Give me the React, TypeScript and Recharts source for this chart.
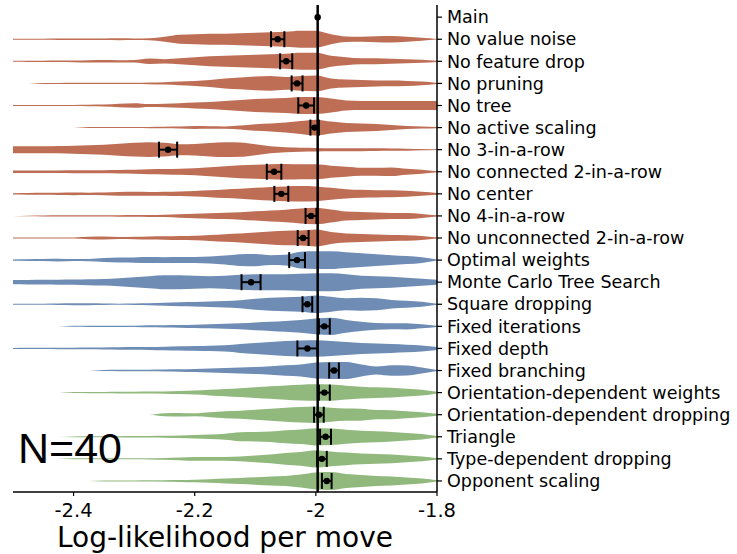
import {
  ComposedChart,
  Area,
  Scatter,
  ErrorBar,
  XAxis,
  YAxis,
  ReferenceLine,
} from "recharts";

const models = [
  "Main",
  "No value noise",
  "No feature drop",
  "No pruning",
  "No tree",
  "No active scaling",
  "No 3-in-a-row",
  "No connected 2-in-a-row",
  "No center",
  "No 4-in-a-row",
  "No unconnected 2-in-a-row",
  "Optimal weights",
  "Monte Carlo Tree Search",
  "Square dropping",
  "Fixed iterations",
  "Fixed depth",
  "Fixed branching",
  "Orientation-dependent weights",
  "Orientation-dependent dropping",
  "Triangle",
  "Type-dependent dropping",
  "Opponent scaling",
];

const groups = [
  "main",
  "lesion", "lesion", "lesion", "lesion", "lesion",
  "lesion", "lesion", "lesion", "lesion", "lesion",
  "alternative", "alternative", "alternative", "alternative", "alternative", "alternative",
  "extension", "extension", "extension", "extension", "extension",
];

// mean log-likelihood per move and its standard error (main: no bar drawn)
const means = [
  -1.997, -2.063, -2.049, -2.031, -2.016, -2.002, -2.244, -2.069, -2.057, -2.008, -2.021,
  -2.031, -2.107, -2.014, -1.986, -2.014, -1.97, -1.986, -1.995, -1.984, -1.99, -1.982,
];
const sems = [
  0, 0.011, 0.01, 0.009, 0.013, 0.007, 0.015, 0.012, 0.0115, 0.009, 0.009,
  0.013, 0.0157, 0.008, 0.009, 0.0165, 0.008, 0.009, 0.008, 0.009, 0.008, 0.008,
];

// x positions where the violin densities were read
const grid = [
  -2.5, -2.475, -2.45, -2.425, -2.4, -2.375, -2.35, -2.325, -2.3, -2.275,
  -2.25, -2.225, -2.2, -2.175, -2.15, -2.125, -2.1, -2.075, -2.05, -2.025,
  -2, -1.975, -1.95, -1.925, -1.9, -1.875, -1.85, -1.825, -1.8,
];

// relative density of each violin at the grid positions
const noValueNoise = [0.6, 0.6, 0.6, 0.8, 0.8, 0.7, 0.7, 0.9, 0.8, 1, 2.5, 4.5, 5, 5.5, 5.5, 6, 6.5, 7, 7.5, 8.5, 8.5, 5, 2.8, 2.5, 3, 3.2, 2.5, 1.5, 0.3];
const noFeatureDrop = [0.5, 0.6, 0.6, 0.7, 0.9, 1.2, 1.3, 1.1, 1.3, 2.8, 2.2, 3, 4, 5, 5.5, 6, 6.5, 7, 7.5, 8.5, 8.5, 5.5, 4, 3, 3, 2.5, 2, 1.5, 0.6];
const noPruning = [0, 0, 0.5, 0.5, 0.6, 0.6, 0.6, 0.6, 0.6, 0.8, 1.2, 1.8, 2.5, 3.5, 5, 6, 7, 7.5, 6.5, 7.5, 8, 5, 4, 3.5, 3, 2.8, 2.5, 1.8, 0.5];
const noTree = [0.5, 0.6, 0.6, 0.6, 0.6, 0.8, 1, 1.8, 2.3, 1.5, 1.8, 2.3, 3, 3.5, 4.5, 5.5, 6.5, 7, 7.5, 8.5, 8.5, 7, 5, 4.5, 4.5, 4.5, 4.5, 4.5, 4.5];
const noActiveScaling = [0, 0, 0, 0, 0, 0.5, 0.5, 0.5, 0.5, 0.6, 0.8, 1, 1.5, 1.3, 1.2, 2, 3.3, 4, 5, 6.5, 8, 6, 4.5, 4, 3.5, 2.5, 1.5, 1, 0.6];
const no3InARow = [3.5, 3.5, 3.5, 3.7, 4, 4.5, 5, 6, 7, 7.5, 7, 5.5, 5.8, 6.8, 7.5, 7.2, 5.5, 3.5, 2.5, 2, 1.8, 1.5, 1.5, 1.5, 1.3, 1.2, 1, 0.7, 0.3];
const noConnected2 = [1.2, 1.2, 1.3, 1.3, 1.5, 1.5, 1.6, 1.8, 2, 2.5, 2.7, 3, 3.5, 4.5, 5.5, 6.5, 7, 7.5, 7.8, 7.5, 7.5, 6, 5, 4, 4, 4.3, 3, 2, 0.5];
const noCenter = [0.6, 0.8, 1, 1.2, 1.3, 1.2, 1.3, 1.8, 2, 1.8, 2, 2.3, 2.8, 3.5, 4.3, 5, 6, 6.8, 7.5, 7.8, 7.5, 6, 4.7, 4, 3.7, 3.5, 3, 2, 0.8];
const no4InARow = [0, 0.3, 0.5, 0.6, 0.6, 0.7, 0.7, 0.8, 0.9, 1, 1.2, 1.8, 2.3, 2.8, 3.2, 3.8, 4.7, 5.5, 6.3, 7.5, 8.3, 6.5, 4.5, 4, 3.5, 3, 3, 2, 0.6];
const noUnconnected2 = [0.5, 0.6, 0.6, 0.6, 0.6, 1.2, 1.5, 1, 1.2, 1.5, 1.7, 2, 2.3, 3, 3.8, 4.5, 5.5, 6.5, 7.3, 7.5, 8.5, 6, 4.5, 4, 3.5, 3, 2.8, 2, 0.5];
const optimalWeights = [0.6, 0.8, 1, 1.3, 1, 1.2, 2, 2.5, 2.7, 3, 2.8, 3, 3, 3.5, 4.5, 6, 6.2, 5, 5.5, 8.5, 9, 9, 8, 7, 6, 5, 4, 2.8, 0.5];
const mcts = [2.2, 2.3, 2.4, 2.5, 2.7, 3, 3.3, 4, 5, 6, 7, 7, 6.5, 6, 6.5, 7.5, 8, 8, 8, 8.5, 9, 9, 8, 6.5, 6, 5.5, 4.5, 3.5, 2.5];
const squareDropping = [0.5, 0.6, 0.6, 0.8, 1, 1, 0.8, 0.6, 0.8, 1, 1.5, 2, 2.2, 2.7, 3.3, 4, 5.5, 6.5, 7, 7.5, 8.8, 7.5, 6, 6.5, 6, 4.3, 3.5, 2.5, 0.5];
const fixedIterations = [0, 0, 0, 0, 0.5, 0.6, 0.6, 0.6, 0.6, 1, 1.2, 1.3, 1.6, 2, 2.5, 3, 4, 4.7, 5.5, 6.5, 8, 8.7, 6.5, 4.7, 3.5, 3, 3.2, 2, 0.6];
const fixedDepth = [0.5, 0.6, 0.6, 0.7, 0.8, 0.9, 1, 1.2, 1.4, 1.5, 1.8, 2.1, 2.4, 2.7, 3.2, 4.5, 5.5, 6.5, 7.5, 8, 8.3, 7.5, 6.5, 5.5, 5, 4.5, 3.8, 3, 1.5];
const fixedBranching = [0, 0, 0, 0, 0, 0, 0.6, 0.7, 0.8, 0.8, 1, 1.2, 1.5, 2, 2.5, 3, 3.5, 4.3, 5.3, 6, 8, 8.5, 8.5, 6, 4, 5.3, 5, 3, 0.5];
const orientWeights = [0, 0, 0, 0, 0.5, 0.6, 0.7, 0.8, 0.9, 1, 1.2, 1.5, 2, 2.8, 3.7, 4.5, 5.3, 6.3, 7.2, 8, 8.3, 8.2, 7, 6, 5.3, 5, 4, 3, 0.8];
const orientDropping = [0, 0, 0, 0, 0, 0, 0, 0, 0, 0, 1.5, 1.8, 1.5, 2.5, 3.5, 4, 5, 6, 7, 7.8, 8.3, 7, 6.2, 6, 4.7, 4.5, 3.5, 2.5, 1];
const triangle = [0, 0, 0, 0, 0.4, 0.5, 0.5, 0.6, 0.7, 0.8, 1, 1.3, 1.7, 2.3, 3, 4.5, 4.7, 5.2, 6.5, 7.3, 8.7, 8.3, 7, 6, 5.5, 4.7, 3.8, 2.7, 0.7];
const typeDropping = [0, 0, 0, 0, 0.5, 0.5, 0.5, 0.5, 0.5, 0.6, 1, 1.3, 2, 1.8, 2, 2.5, 3.5, 4.5, 6, 7, 8.8, 7.5, 6.3, 5.5, 5, 4.5, 3.5, 2.5, 0.6];
const opponentScaling = [0, 0, 0, 0, 0, 0, 0.5, 0.5, 0.5, 0.6, 0.8, 1, 1.3, 1.8, 2.5, 3, 3.7, 4.5, 5, 6.5, 8.5, 9, 7, 6, 5, 4.5, 3.5, 2.5, 0.6];

const violins: (number[] | null)[] = [
  null,
  noValueNoise, noFeatureDrop, noPruning, noTree, noActiveScaling,
  no3InARow, noConnected2, noCenter, no4InARow, noUnconnected2,
  optimalWeights, mcts, squareDropping, fixedIterations, fixedDepth, fixedBranching,
  orientWeights, orientDropping, triangle, typeDropping, opponentScaling,
];

const groupColor: Record<string, string> = {
  main: "#000000",
  lesion: "#be6e55",
  alternative: "#6e8cb4",
  extension: "#91b97d",
};

// density -> half width in row units
const HALF_WIDTH = 0.045;

const violinTable = grid.map((x, i) => {
  const row: Record<string, any> = { x };
  violins.forEach((d, r) => {
    if (d) row[`v${r}`] = [r - d[i] * HALF_WIDTH, r + d[i] * HALF_WIDTH];
  });
  return row;
});

const points = models.map((_, r) => ({ x: means[r], y: r, err: sems[r] }));

const font = "DejaVu Sans";

const Dot = (props: any) => <circle cx={props.cx} cy={props.cy} r={3.2} fill="#000" />;

export default function App() {
  return (
    <div style={{ position: "absolute", left: 0, top: 0, width: 737, height: 554, background: "#fff" }}>
      <ComposedChart
        width={737}
        height={554}
        data={violinTable}
        margin={{ top: 5, right: 0, bottom: 0, left: 13 }}
      >
        <XAxis
          dataKey="x"
          type="number"
          domain={[-2.5, -1.8]}
          ticks={[-2.4, -2.2, -2, -1.8]}
          allowDataOverflow
          height={62}
          tickFormatter={(v) => String(v)}
          axisLine={{ stroke: "#000", strokeWidth: 1.5 }}
          tickLine={{ stroke: "#000", strokeWidth: 1.2 }}
          tickSize={4}
          tickMargin={7}
          tick={{ fill: "#000", fontSize: 19.5, fontFamily: font }}
          label={{
            value: "Log-likelihood per move",
            position: "insideBottom",
            offset: 7,
            fill: "#000",
            fontSize: 28,
            fontFamily: font,
          }}
        />
        <YAxis
          dataKey="y"
          type="number"
          orientation="right"
          reversed
          domain={[-0.55, 21.5]}
          allowDataOverflow
          width={300}
          ticks={models.map((_, i) => i)}
          interval={0}
          tickFormatter={(i) => models[i]}
          axisLine={{ stroke: "#000", strokeWidth: 1.5 }}
          tickLine={{ stroke: "#000", strokeWidth: 1.2 }}
          tickSize={5}
          tickMargin={5}
          tick={{ fill: "#000", fontSize: 17.5, fontFamily: font, textAnchor: "start" }}
        />
        {violins.map((d, r) =>
          d ? (
            <Area
              key={`v${r}`}
              dataKey={`v${r}`}
              type="monotone"
              fill={groupColor[groups[r]]}
              fillOpacity={1}
              stroke="none"
              dot={false}
              activeDot={false}
              isAnimationActive={false}
            />
          ) : null
        )}
        <ReferenceLine x={means[0]} stroke="#000" strokeWidth={2.5} />
        <Scatter data={points} shape={Dot} isAnimationActive={false}>
          <ErrorBar dataKey="err" direction="x" width={8} stroke="#000" strokeWidth={2} />
        </Scatter>
      </ComposedChart>
      <div
        style={{
          position: "absolute",
          left: 18,
          top: 427,
          fontFamily: "Liberation Sans",
          fontSize: 43,
          lineHeight: 1,
          color: "#000",
        }}
      >
        N=40
      </div>
    </div>
  );
}
